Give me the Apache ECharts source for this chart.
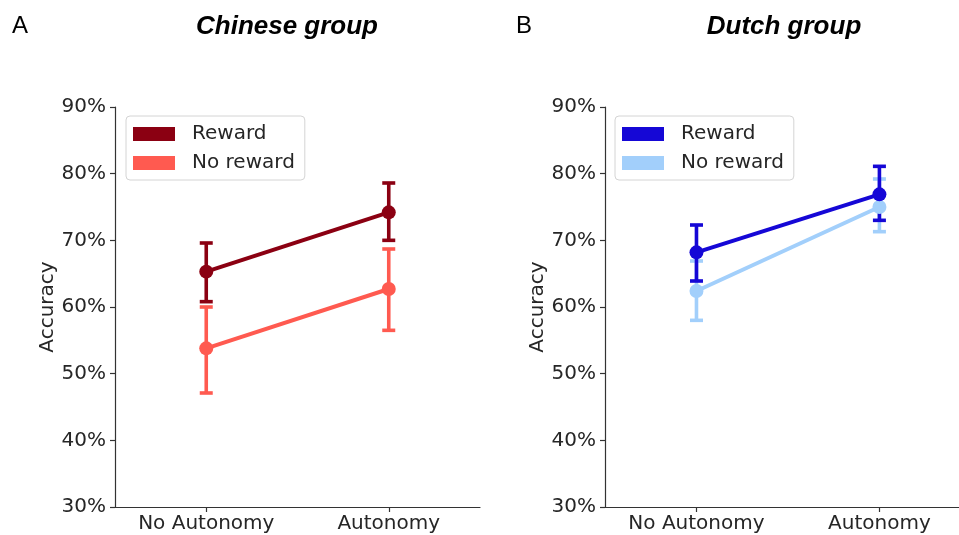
<!DOCTYPE html>
<html>
<head>
<meta charset="utf-8">
<script src="https://cdn.jsdelivr.net/npm/echarts@6/dist/echarts.min.js"></script>
<style>
  html, body { margin: 0; padding: 0; background: #ffffff; }
  #chart { width: 959px; height: 535px; }
</style>
</head>
<body>
<div id="chart"></div>
<script>
// Conditions on the x axis
const categories = ['No Autonomy', 'Autonomy'];
const yTicks = [30, 40, 50, 60, 70, 80, 90];

// Chinese group: mean accuracy (%) with error-bar bounds
const cnRewardMean = [65.3, 74.2];
const cnRewardLow = [60.8, 70.0];
const cnRewardHigh = [69.6, 78.6];
const cnNoRewardMean = [53.8, 62.7];
const cnNoRewardLow = [47.1, 56.5];
const cnNoRewardHigh = [60.0, 68.7];

// Dutch group: mean accuracy (%) with error-bar bounds
const nlRewardMean = [68.2, 76.9];
const nlRewardLow = [63.9, 73.0];
const nlRewardHigh = [72.3, 81.1];
const nlNoRewardMean = [62.4, 75.0];
const nlNoRewardLow = [58.0, 71.3];
const nlNoRewardHigh = [66.9, 79.2];

const FONT = 'DejaVu Sans';
const TEXT = '#262626';
const AXIS = '#333333';

const colors = {
  cnReward: '#8b0012',
  cnNoReward: '#ff5a50',
  nlReward: '#1507d6',
  nlNoReward: '#a2cffb'
};

// category positions on a numeric x axis (0, 1, ...)
const catPos = categories.map((c, i) => i);

function errorBars(gridIdx, low, high, color) {
  return {
    type: 'custom',
    xAxisIndex: gridIdx,
    yAxisIndex: gridIdx,
    silent: true,
    data: low.map((l, i) => [catPos[i], l, high[i]]),
    encode: { x: 0, y: [1, 2] },
    renderItem: function (params, api) {
      const lo = api.coord([api.value(0), api.value(1)]);
      const hi = api.coord([api.value(0), api.value(2)]);
      const hw = 6.5;
      const style = { stroke: color, lineWidth: 3.6, fill: null };
      return {
        type: 'group',
        children: [
          { type: 'line', shape: { x1: lo[0], y1: lo[1], x2: hi[0], y2: hi[1] }, style: style },
          { type: 'line', shape: { x1: lo[0] - hw, y1: lo[1], x2: lo[0] + hw, y2: lo[1] }, style: style },
          { type: 'line', shape: { x1: hi[0] - hw, y1: hi[1], x2: hi[0] + hw, y2: hi[1] }, style: style }
        ]
      };
    },
    z: 2
  };
}

function meanLine(gridIdx, name, values, color, z) {
  return {
    type: 'line',
    name: name,
    xAxisIndex: gridIdx,
    yAxisIndex: gridIdx,
    data: values.map((v, i) => [catPos[i], v]),
    symbol: 'circle',
    symbolSize: 14,
    lineStyle: { color: color, width: 4 },
    itemStyle: { color: color },
    silent: true,
    animation: false,
    z: z
  };
}

function xAxisCfg(gridIdx, min, max) {
  return {
    type: 'value',
    gridIndex: gridIdx,
    min: min,
    max: max,
    axisLine: { show: true, onZero: false, lineStyle: { color: AXIS, width: 1.2 } },
    axisTick: { show: true, customValues: catPos, length: 5, lineStyle: { color: AXIS, width: 1.2 } },
    axisLabel: {
      fontFamily: FONT, fontSize: 20, color: TEXT, margin: 7,
      customValues: catPos,
      formatter: function (v) { return categories[Math.round(v)]; }
    },
    splitLine: { show: false }
  };
}

function yAxisCfg(gridIdx) {
  return {
    type: 'value',
    gridIndex: gridIdx,
    min: yTicks[0],
    max: yTicks[yTicks.length - 1],
    interval: 10,
    name: 'Accuracy',
    nameLocation: 'middle',
    nameRotate: 90,
    nameGap: 50,
    nameTextStyle: { fontFamily: FONT, fontSize: 20, color: TEXT },
    axisLine: { show: true, onZero: false, lineStyle: { color: AXIS, width: 1.2 } },
    axisTick: { show: true, length: 5, lineStyle: { color: AXIS, width: 1.2 } },
    axisLabel: { fontFamily: FONT, fontSize: 20, color: TEXT, margin: 9, formatter: '{value}%' },
    splitLine: { show: false }
  };
}

function legendCfg(left, names) {
  return {
    left: left,
    top: 116,
    orient: 'vertical',
    data: names,
    icon: 'rect',
    itemWidth: 42,
    itemHeight: 14,
    itemGap: 9,
    padding: [8, 10, 7, 7],
    borderColor: '#d4d4d4',
    borderWidth: 1,
    borderRadius: 4,
    backgroundColor: 'rgba(255,255,255,0.8)',
    selectedMode: false,
    formatter: function (n) { return n.split('|')[1]; },
    textStyle: { fontFamily: FONT, fontSize: 20, color: TEXT, padding: [0, 0, 0, 12] }
  };
}

const chart = echarts.init(document.getElementById('chart'), null, { renderer: 'canvas' });

chart.setOption({
  backgroundColor: '#ffffff',
  animation: false,
  grid: [
    { left: 115, top: 107, width: 365, height: 400 },
    { left: 605, top: 107, width: 354, height: 400 }
  ],
  // the right panel's axis runs past the page edge, so its range is cut short
  xAxis: [xAxisCfg(0, -0.5, 1.5), xAxisCfg(1, -0.5, 1.435)],
  yAxis: [yAxisCfg(0), yAxisCfg(1)],
  legend: [
    legendCfg(126, ['cn|Reward', 'cn|No reward']),
    legendCfg(615, ['nl|Reward', 'nl|No reward'])
  ],
  graphic: [
    { type: 'text', x: 12, y: 26, style: { text: 'A', font: '24px "Liberation Sans"', fill: '#000', textVerticalAlign: 'middle' } },
    { type: 'text', x: 516, y: 26, style: { text: 'B', font: '24px "Liberation Sans"', fill: '#000', textVerticalAlign: 'middle' } },
    { type: 'text', x: 287, y: 27, style: { text: 'Chinese group', font: 'italic bold 26px "Liberation Sans"', fill: '#000', textAlign: 'center', textVerticalAlign: 'middle' } },
    { type: 'text', x: 784, y: 27, style: { text: 'Dutch group', font: 'italic bold 26px "Liberation Sans"', fill: '#000', textAlign: 'center', textVerticalAlign: 'middle' } }
  ],
  series: [
    errorBars(0, cnNoRewardLow, cnNoRewardHigh, colors.cnNoReward),
    meanLine(0, 'cn|No reward', cnNoRewardMean, colors.cnNoReward, 3),
    errorBars(0, cnRewardLow, cnRewardHigh, colors.cnReward),
    meanLine(0, 'cn|Reward', cnRewardMean, colors.cnReward, 5),

    errorBars(1, nlNoRewardLow, nlNoRewardHigh, colors.nlNoReward),
    meanLine(1, 'nl|No reward', nlNoRewardMean, colors.nlNoReward, 3),
    errorBars(1, nlRewardLow, nlRewardHigh, colors.nlReward),
    meanLine(1, 'nl|Reward', nlRewardMean, colors.nlReward, 5)
  ]
});
</script>
</body>
</html>
